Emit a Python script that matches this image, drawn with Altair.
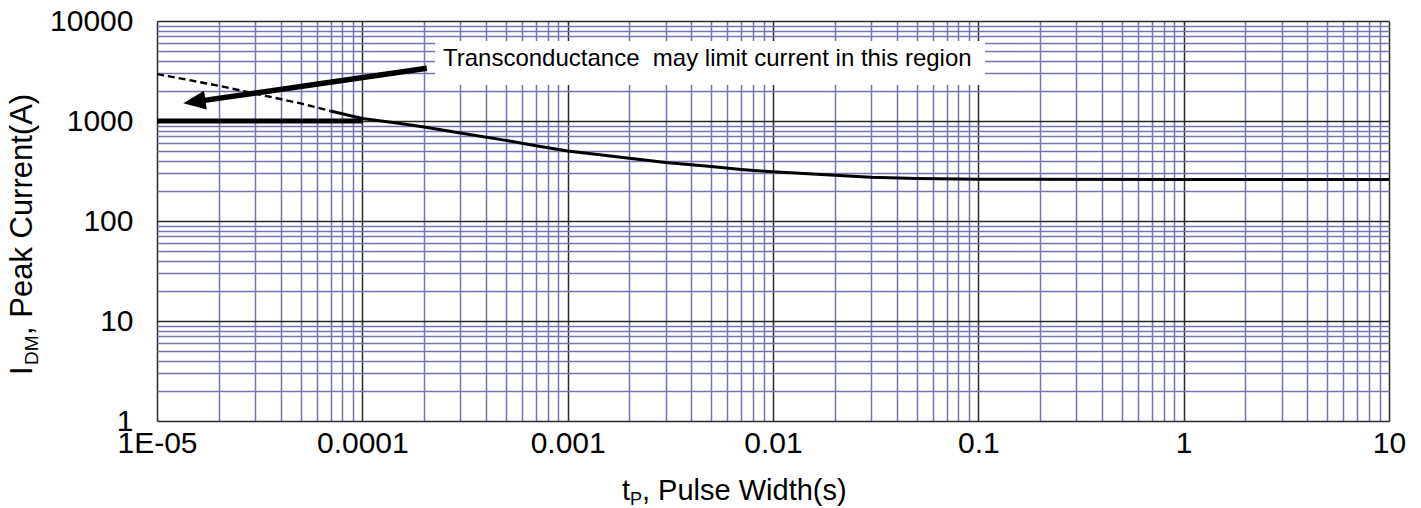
import altair as alt
import pandas as pd

# ---------------- data ----------------
# dashed extension (transconductance-limited region)
dash_t = [1e-5, 2e-5, 3e-5, 5e-5, 7e-5]
dash_i = [2950, 2250, 1880, 1500, 1260]

# solid peak-current curve
curve_t = [7e-5, 1e-4, 1.5e-4, 2e-4, 3e-4, 5e-4, 7e-4, 1e-3, 2e-3, 3e-3,
           5e-3, 7e-3, 1e-2, 2e-2, 3e-2, 5e-2, 0.1, 1, 10]
curve_i = [1260, 1060, 950, 870, 760, 640, 565, 500, 425, 385,
           350, 328, 310, 286, 274, 266, 262, 260, 260]

# thick horizontal limit line
limit_t = [1e-5, 1e-4]
limit_i = [1000, 1000]

# arrow (tail -> near head) and arrow tip
arrow_t = [2.06e-4, 1.6e-5]
arrow_i = [3365, 1580]
tip_t = [1.343e-5]
tip_i = [1503]

# annotation box and text
box_t = [2.26e-4, 0.108]
box_i = [6310, 2290]
note_t = [2.47e-4]
note_i = [4200]
note_text = ["Transconductance\u00a0 may limit current in this region"]

# axes
x_major = [1e-5, 1e-4, 1e-3, 1e-2, 1e-1, 1, 10]
x_labels = ["1E-05", "0.0001", "0.001", "0.01", "0.1", "1", "10"]
y_major = [1, 10, 100, 1000, 10000]
y_labels = ["1", "10", "100", "1000", "10000"]
minor_mult = [2, 3, 4, 5, 6, 7, 8, 9]

x_ticks = sorted(set(x_major + [float(f"{m}e{k}") for k in range(-5, 1) for m in minor_mult]))
y_ticks = sorted(set(y_major + [float(f"{m}e{k}") for k in range(0, 4) for m in minor_mult]))

FONT = "Liberation Sans"
MAJOR = "#2a2a2a"
MINOR = "#7474AE"

lg = "(log(datum.value)/LN10)"
major_test = f"abs({lg} - round({lg})) < 0.001"


def label_expr(vals, labs):
    import math
    expr = "''"
    for v, l in reversed(list(zip(vals, labs))):
        k = round(math.log10(v))
        expr = f"abs({lg} - ({k})) < 0.001 ? '{l}' : ({expr})"
    return expr


grid_color = {"condition": {"test": major_test, "value": MAJOR}, "value": MINOR}

x_axis = alt.Axis(values=x_ticks, labelExpr=label_expr(x_major, x_labels),
                  grid=True, gridColor=grid_color, gridWidth=1.5, gridOpacity=1,
                  domain=False, ticks=False, tickSize=0, labelFont=FONT,
                  labelFontSize=30, labelColor="black", labelPadding=7,
                  labelFlush=False, labelOverlap=False, title=None)
y_axis = alt.Axis(values=y_ticks, labelExpr=label_expr(y_major, y_labels),
                  grid=True, gridColor=grid_color, gridWidth=1.5, gridOpacity=1,
                  domain=False, ticks=False, tickSize=0, labelFont=FONT,
                  labelFontSize=30, labelColor="black", labelPadding=24,
                  labelFlush=False, labelOverlap=False, title=None)

xs = alt.Scale(type="log", domain=[1e-5, 10], nice=False)
ys = alt.Scale(type="log", domain=[1, 10000], nice=False)


def X(f="t"):
    return alt.X(f"{f}:Q", scale=xs, axis=x_axis)


def Y(f="i"):
    return alt.Y(f"{f}:Q", scale=ys, axis=y_axis)


box = alt.Chart(pd.DataFrame({"t": [box_t[0]], "t2": [box_t[1]],
                              "i": [box_i[0]], "i2": [box_i[1]]})).mark_rect(
    color="white").encode(x=X(), x2="t2:Q", y=Y(), y2="i2:Q")

dashed = alt.Chart(pd.DataFrame({"t": dash_t, "i": dash_i})).mark_line(
    color="black", strokeWidth=2.4, strokeDash=[7, 4]).encode(x=X(), y=Y())

solid = alt.Chart(pd.DataFrame({"t": curve_t, "i": curve_i})).mark_line(
    color="black", strokeWidth=3).encode(x=X(), y=Y())

limit = alt.Chart(pd.DataFrame({"t": limit_t, "i": limit_i})).mark_line(
    color="black", strokeWidth=5, strokeCap="butt").encode(x=X(), y=Y())

arrow = alt.Chart(pd.DataFrame({"t": arrow_t, "i": arrow_i})).mark_line(
    color="black", strokeWidth=5.5, strokeCap="butt").encode(x=X(), y=Y())

head = alt.Chart(pd.DataFrame({"t": tip_t, "i": tip_i})).mark_point(
    shape="M0,0L2,-0.85L2,0.85Z", filled=True, color="black", opacity=1,
    size=500, angle=351.8, strokeWidth=0).encode(x=X(), y=Y())

note = alt.Chart(pd.DataFrame({"t": note_t, "i": note_i, "s": note_text})).mark_text(
    align="left", baseline="middle", font=FONT, fontSize=24, color="black").encode(
    x=X(), y=Y(), text="s:N")

one = pd.DataFrame({"a": [0]})


def label(txt, x, y, size, angle=0, align="left", baseline="alphabetic"):
    kw = dict(align=align, baseline=baseline, font=FONT, fontSize=size, color="black")
    if angle:
        kw["angle"] = angle
    return alt.Chart(one).mark_text(**kw).encode(
        x=alt.value(x), y=alt.value(y), text=alt.value(txt))


# axis titles with subscripts (plot-area pixel offsets)
xt = [label("t", 465, 479, 29),
      label("P", 473, 484, 18),
      label(", Pulse Width(s)", 485, 479, 29)]
yt = [label("I", -125, 354, 31, angle=270),
      label("DM", -119, 344, 19, angle=270),
      label(", Peak Current(A)", -125, 314, 31, angle=270)]

chart = alt.layer(box, dashed, solid, limit, arrow, head, note, *xt, *yt).properties(
    width=1232, height=400,
    autosize=alt.AutoSizeParams(type="none"),
    padding={"left": 149, "top": 13, "right": 24, "bottom": 87},
).configure_view(stroke="#3a3a3a", strokeWidth=2.5).configure(background="white")

chart.save("out.html", embed_options={"renderer": "svg", "actions": False})
